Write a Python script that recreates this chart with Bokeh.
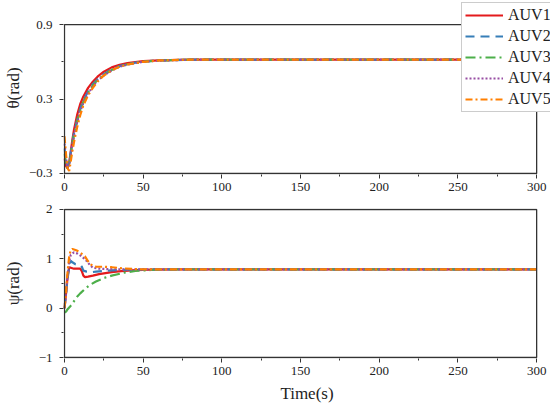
from bokeh.plotting import figure
from bokeh.layouts import column
from bokeh.models import Legend, LegendItem, FixedTicker, Range1d
from bokeh.embed import file_html
from bokeh.resources import INLINE

# ---- data ----
names = ["AUV1", "AUV2", "AUV3", "AUV4", "AUV5"]
colors = ["#e41a1c", "#377eb8", "#4daf4a", "#984ea3", "#ff7f00"]
dashes = ["solid", "9 6", "10 4 2 4", "2 2", "7 3 2 3"]

theta_t = [0, 1, 2, 3, 4, 5, 6, 8, 10, 12, 15, 18, 21, 25, 30, 35, 40, 50, 60, 80, 100, 300]
theta_auv1 = [-0.18, -0.24, -0.26, -0.21, -0.12, -0.03, 0.05, 0.17, 0.26, 0.32, 0.39, 0.44, 0.48, 0.52, 0.555, 0.575, 0.59, 0.605, 0.612, 0.617, 0.618, 0.618]
theta_auv2 = [-0.10, -0.20, -0.25, -0.21, -0.13, -0.05, 0.02, 0.13, 0.22, 0.29, 0.36, 0.42, 0.46, 0.50, 0.54, 0.565, 0.583, 0.602, 0.611, 0.617, 0.618, 0.618]
theta_auv3 = [-0.14, -0.22, -0.26, -0.22, -0.14, -0.06, 0.01, 0.12, 0.21, 0.28, 0.35, 0.41, 0.455, 0.495, 0.535, 0.562, 0.58, 0.601, 0.611, 0.617, 0.618, 0.618]
theta_auv4 = [-0.06, -0.18, -0.25, -0.23, -0.15, -0.07, 0.00, 0.11, 0.20, 0.27, 0.345, 0.40, 0.45, 0.49, 0.53, 0.56, 0.578, 0.600, 0.610, 0.617, 0.618, 0.618]
theta_auv5 = [0.00, -0.15, -0.26, -0.28, -0.20, -0.12, -0.05, 0.07, 0.17, 0.25, 0.33, 0.39, 0.44, 0.49, 0.53, 0.56, 0.578, 0.600, 0.611, 0.617, 0.618, 0.618]

psi_t1 = [0, 1, 2, 3, 4, 6, 8, 10, 11, 12, 13, 15, 18, 22, 26, 30, 36, 45, 55, 70, 300]
psi_auv1 = [0.0, 0.30, 0.65, 0.82, 0.82, 0.80, 0.80, 0.80, 0.75, 0.66, 0.63, 0.64, 0.66, 0.69, 0.71, 0.73, 0.75, 0.77, 0.78, 0.785, 0.785]
psi_t2 = [0, 1, 2, 3, 4, 5, 7, 10, 11, 12, 14, 17, 20, 25, 30, 40, 55, 300]
psi_auv2 = [0.0, 0.30, 0.60, 0.85, 0.96, 0.93, 0.89, 0.88, 0.84, 0.76, 0.74, 0.73, 0.74, 0.755, 0.765, 0.78, 0.785, 0.785]
psi_t3 = [0, 1, 2, 4, 6, 8, 10, 13, 16, 20, 25, 30, 38, 45, 55, 70, 300]
psi_auv3 = [-0.09, -0.07, -0.02, 0.05, 0.14, 0.23, 0.30, 0.39, 0.47, 0.54, 0.61, 0.66, 0.72, 0.755, 0.775, 0.785, 0.785]
psi_t4 = [0, 1, 2, 3, 4, 6, 8, 10, 12, 14, 16, 18, 22, 28, 40, 300]
psi_auv4 = [0.0, 0.30, 0.65, 0.95, 1.08, 1.13, 1.11, 1.07, 1.02, 0.96, 0.88, 0.82, 0.80, 0.79, 0.785, 0.785]
psi_t5 = [0, 1, 2, 3, 4, 5, 7, 9, 11, 13, 15, 17, 20, 25, 30, 36, 45, 55, 300]
psi_auv5 = [0.0, 0.35, 0.75, 1.05, 1.18, 1.20, 1.18, 1.15, 1.10, 1.05, 0.95, 0.88, 0.84, 0.84, 0.83, 0.81, 0.79, 0.785, 0.785]

x_ticks = [0, 50, 100, 150, 200, 250, 300]
x_minor = [25, 75, 125, 175, 225, 275]
theta_ticks = [-0.3, 0.3, 0.9]
theta_minor = [0.0, 0.6]
psi_ticks = [-1, 0, 1, 2]
psi_minor = [-0.5, 0.5, 1.5]

FONT = "Liberation Serif"
AX = "#333333"

theta_series = [theta_auv1, theta_auv2, theta_auv3, theta_auv4, theta_auv5]
psi_series = [(psi_t1, psi_auv1), (psi_t2, psi_auv2), (psi_t3, psi_auv3), (psi_t4, psi_auv4), (psi_t5, psi_auv5)]


def style(p, yticks, yminor, ylabel, ylabel_standoff, xlabel=None):
    p.xaxis.ticker = FixedTicker(ticks=x_ticks, minor_ticks=x_minor)
    p.yaxis.ticker = FixedTicker(ticks=yticks, minor_ticks=yminor)
    p.xgrid.visible = False
    p.ygrid.visible = False
    p.outline_line_color = None
    for ax in (p.xaxis, p.yaxis):
        ax.axis_line_color = None
        ax.major_tick_line_color = AX
        ax.minor_tick_line_color = AX
        ax.major_tick_out = 4
        ax.major_tick_in = 0
        ax.minor_tick_out = 2
        ax.minor_tick_in = 0
        ax.major_label_text_font = FONT
        ax.major_label_text_font_size = "13px"
        ax.major_label_text_color = "#222222"
        ax.axis_label_text_font = FONT
        ax.axis_label_text_font_size = "17px"
        ax.axis_label_text_font_style = "normal"
        ax.axis_label_text_color = "#222222"
    p.xaxis.major_label_standoff = 4
    p.yaxis.major_label_standoff = 7
    p.yaxis.axis_label = ylabel
    p.yaxis.axis_label_standoff = ylabel_standoff
    if xlabel:
        p.xaxis.axis_label = xlabel
        p.xaxis.axis_label_standoff = 6
    p.background_fill_color = "white"
    p.border_fill_color = "white"


# The plotting frames are made a little larger than the boxed areas
# (14 px to the right, 23 px above in the top panel, 1 px elsewhere) so that the
# legend can overlap the box corner as in the reference and the box outline,
# drawn as a glyph, is not clipped.
x_lo, x_hi = x_ticks[0], x_ticks[-1]
t_lo, t_hi = theta_ticks[0], theta_ticks[-1]
s_lo, s_hi = psi_ticks[0], psi_ticks[-1]
box_w, box_h = 477, 148.5
xpx = (x_hi - x_lo) / box_w
tpx = (t_hi - t_lo) / box_h
spx = (s_hi - s_lo) / box_h

p1 = figure(width=550, height=195, output_backend="svg", toolbar_location=None,
            x_range=Range1d(x_lo - 1 * xpx, x_hi + 14 * xpx),
            y_range=Range1d(t_lo - 1 * tpx, t_hi + 23 * tpx),
            min_border_left=58, min_border_right=0, min_border_top=1, min_border_bottom=21)
style(p1, theta_ticks, theta_minor, "θ(rad)", 3)

renderers = []
for i in range(5):
    r = p1.line(theta_t, theta_series[i], line_color=colors[i], line_width=2.2, line_dash=dashes[i])
    renderers.append(r)

p1.quad(left=[x_lo], right=[x_hi], bottom=[t_lo], top=[t_hi], fill_color=None,
        line_color=AX, line_width=1.3)

legend = Legend(items=[LegendItem(label=names[i], renderers=[renderers[i]]) for i in range(5)],
                location=(398, 62))
legend.label_text_font = FONT
legend.label_text_font_size = "16px"
legend.label_text_color = "#222222"
legend.glyph_width = 38
legend.glyph_height = 16
legend.label_standoff = 5
legend.spacing = 3
legend.padding = 3
legend.margin = 0
legend.border_line_color = "#999999"
legend.border_line_width = 1
legend.background_fill_alpha = 1.0
p1.add_layout(legend, "center")

p2 = figure(width=550, height=216, output_backend="svg", toolbar_location=None,
            x_range=Range1d(x_lo - 1 * xpx, x_hi + 14 * xpx),
            y_range=Range1d(s_lo - 1 * spx, s_hi + 1 * spx),
            min_border_left=58, min_border_right=0, min_border_top=13, min_border_bottom=53)
style(p2, psi_ticks, psi_minor, "ψ(rad)", 13, "Time(s)")

for i in range(5):
    t, v = psi_series[i]
    p2.line(t, v, line_color=colors[i], line_width=2.2, line_dash=dashes[i])

p2.quad(left=[x_lo], right=[x_hi], bottom=[s_lo], top=[s_hi], fill_color=None,
        line_color=AX, line_width=1.3)

layout = column(p1, p2, spacing=0)
open("out.html", "w").write(file_html(layout, INLINE))
